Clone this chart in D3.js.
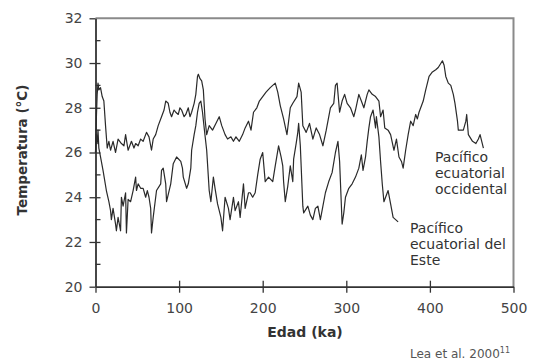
<!DOCTYPE html>
<html>
<head>
<meta charset="utf-8">
<script src="https://cdn.jsdelivr.net/npm/d3@7/dist/d3.min.js"></script>
<style>
  body { margin: 0; background: #fff; }
  svg { display: block; }
</style>
</head>
<body>
<div id="chart"></div>
<script>
// Pacífico ecuatorial occidental (edad ka, temperatura °C)
const westAge = [0,1,2,3,4,6,8,10,12,14,16,18,21,24,27,31,34,36,39,43,46,48,51,54,57,61,64,67,69,72,75,79,82,84,87,89,91,94,96,99,101,103,106,108,111,113,115,118,120,122,123,125,127,129,131,133,136,140,144,148,151,155,158,162,165,168,172,176,179,183,186,189,193,196,200,204,209,215,218,221,225,229,233,236,241,243,246,248,252,256,260,264,268,272,276,281,285,287,289,292,295,298,301,305,309,311,315,318,321,325,327,331,335,339,341,344,346,350,353,357,360,363,366,368,371,374,377,380,383,385,387,392,395,399,403,407,410,415,417,419,422,425,428,430,433,434,438,440,443,444,446,451,455,458,460,462,464];
const westTemp = [26.0,27.5,28.6,29.1,28.8,28.9,28.5,28.3,27.2,26.2,26.5,26.1,26.5,26.0,26.6,26.4,26.3,26.8,26.1,26.5,26.2,26.4,26.3,26.6,26.5,26.9,26.7,26.1,26.6,26.8,27.2,27.6,27.9,28.3,28.2,27.8,27.6,27.9,27.8,27.7,28.0,27.9,27.6,27.7,28.0,27.6,27.8,28.2,28.6,29.4,29.5,29.3,29.2,28.8,27.5,26.8,27.2,27.0,27.3,27.6,27.2,26.8,26.6,26.7,26.5,26.7,26.5,26.8,27.1,27.4,27.0,27.8,28.0,28.3,28.5,28.7,28.9,29.1,28.7,28.1,27.5,26.8,28.0,28.2,28.5,29.1,28.7,27.2,26.9,27.3,26.6,27.1,26.8,26.3,27.0,28.0,28.2,29.0,29.1,27.8,28.3,28.6,28.2,28.0,27.6,27.9,28.6,28.3,28.0,28.6,28.8,28.6,28.5,28.3,27.6,27.9,27.1,27.0,26.8,26.1,26.6,25.8,25.6,25.3,26.1,26.8,27.4,27.2,27.7,27.5,27.8,28.3,28.8,29.4,29.6,29.7,29.8,30.1,29.9,29.4,29.1,29.0,28.6,28.2,27.4,27.0,27.0,27.0,27.4,27.7,26.8,26.5,26.4,26.6,26.8,26.5,26.2];

// Pacífico ecuatorial del Este
const eastAge = [0,1,2,3,4,6,9,13,16,18,19,21,24,25,27,30,31,33,36,37,39,42,45,48,49,51,54,57,60,62,64,66,67,69,73,78,79,81,84,85,90,93,97,102,104,105,109,111,114,115,118,120,122,124,126,128,130,133,136,138,141,143,146,150,152,155,159,161,165,167,171,173,177,179,183,185,188,191,194,197,200,203,207,212,215,219,222,224,225,227,230,233,236,237,240,242,243,245,248,249,254,257,260,263,266,269,272,275,279,283,287,290,292,295,297,299,303,307,311,315,318,320,321,323,325,327,329,332,335,336,339,341,343,345,347,350,353,356,359,362];
const eastTemp = [26.0,26.8,26.4,27.0,26.2,25.8,25.2,24.3,23.8,23.4,23.0,23.5,22.8,22.5,23.1,22.5,24.0,23.6,24.2,22.4,23.9,23.8,24.3,24.9,24.3,24.6,24.4,24.4,24.0,24.3,24.0,23.5,22.4,23.1,24.3,24.6,25.2,25.3,24.6,23.8,24.6,25.5,25.8,25.6,25.3,24.9,24.4,24.6,25.3,26.1,26.8,27.2,27.8,28.2,28.3,27.8,27.1,26.1,24.3,23.8,24.9,24.4,23.7,23.1,22.5,24.0,23.5,23.0,24.0,23.4,23.8,23.1,24.6,23.5,24.2,24.2,24.0,24.2,25.0,25.7,26.0,24.7,24.9,24.7,25.4,26.3,25.8,25.4,24.7,23.8,24.5,25.4,24.7,25.7,26.4,26.9,27.3,26.3,23.6,23.3,23.6,23.2,23.0,23.5,23.6,23.0,23.6,24.2,24.7,25.1,26.0,26.5,25.6,22.8,23.3,24.0,24.4,24.6,24.9,25.3,25.9,25.2,25.4,25.8,26.5,27.1,27.6,27.9,27.1,27.6,26.7,25.6,24.6,23.8,24.0,24.3,23.7,23.1,23.0,22.9];

const xTicks = [0, 100, 200, 300, 400, 500];
const yTicks = [20, 22, 24, 26, 28, 30, 32];
const yMinor = [21, 23, 25, 27, 29, 31];

const westLabel = ["Pacífico", "ecuatorial", "occidental"];
const eastLabel = ["Pacífico", "ecuatorial del", "Este"];

const width = 533, height = 362;
const margin = { top: 18.3, right: 19.5, bottom: 75.3, left: 95.5 };

const svg = d3.select("#chart").append("svg")
  .attr("width", width)
  .attr("height", height)
  .style("font-family", "'DejaVu Sans', sans-serif");

const x = d3.scaleLinear().domain([0, 500]).range([margin.left, width - margin.right]);
const y = d3.scaleLinear().domain([20, 32]).range([height - margin.bottom, margin.top]);

// marco superior y derecho
svg.append("path")
  .attr("d", `M${x(0)},${y(32)}H${x(500)}V${y(20)}`)
  .attr("fill", "none")
  .attr("stroke", "#8a8a8a")
  .attr("stroke-width", 2);

// eje y
const yAxis = svg.append("g")
  .attr("transform", `translate(${x(0)},0)`)
  .call(d3.axisLeft(y).tickValues(yTicks).tickSizeInner(6).tickSizeOuter(0).tickPadding(7));

yAxis.selectAll(".tick line").attr("x2", 5).attr("x1", -6);
yAxis.selectAll(".tick")
  .filter(d => d === 20 || d === 32)
  .select("line").attr("x2", 0);

yAxis.selectAll(".minor")
  .data(yMinor)
  .join("line")
  .attr("class", "minor")
  .attr("x1", 0).attr("x2", 5)
  .attr("y1", d => y(d)).attr("y2", d => y(d))
  .attr("stroke", "#333");

// eje x
const xAxis = svg.append("g")
  .attr("transform", `translate(0,${y(20)})`)
  .call(d3.axisBottom(x).tickValues(xTicks).tickSizeInner(6).tickSizeOuter(0).tickPadding(10));

xAxis.selectAll(".tick line").attr("y1", -6).attr("y2", 6);
xAxis.selectAll(".tick").filter(d => d === 0).select("line").attr("y1", 0);

[yAxis, xAxis].forEach(a => {
  a.select(".domain").attr("stroke", "#333").attr("stroke-width", 1.8);
  a.selectAll("line").attr("stroke", "#333").attr("stroke-width", 1.3);
  a.selectAll("text")
    .attr("fill", "#444")
    .style("font-size", "14px")
    .style("font-family", "'DejaVu Sans', sans-serif");
});
xAxis.selectAll(".tick line").filter(d => d === 500).attr("y1", 0);

// series
const line = d3.line().x(d => x(d[0])).y(d => y(d[1]));

svg.append("path")
  .datum(westAge.map((a, i) => [a, westTemp[i]]))
  .attr("fill", "none")
  .attr("stroke", "#2a2a2a")
  .attr("stroke-width", 1.2)
  .attr("stroke-linejoin", "round")
  .attr("d", line);

svg.append("path")
  .datum(eastAge.map((a, i) => [a, eastTemp[i]]))
  .attr("fill", "none")
  .attr("stroke", "#2a2a2a")
  .attr("stroke-width", 1.2)
  .attr("stroke-linejoin", "round")
  .attr("d", line);

// rotulos de ejes
svg.append("text")
  .attr("transform", `translate(27,150) rotate(-90)`)
  .attr("text-anchor", "middle")
  .attr("fill", "#333")
  .style("font-size", "13.5px")
  .style("font-weight", "bold")
  .text("Temperatura (°C)");

svg.append("text")
  .attr("x", 305)
  .attr("y", 337)
  .attr("text-anchor", "middle")
  .attr("fill", "#333")
  .style("font-size", "14px")
  .style("font-weight", "bold")
  .text("Edad (ka)");

// etiquetas de las series
svg.append("g").selectAll("text")
  .data(westLabel)
  .join("text")
  .attr("x", 435)
  .attr("y", (d, i) => 162 + i * 16)
  .attr("fill", "#333")
  .style("font-size", "14px")
  .text(d => d);

svg.append("g").selectAll("text")
  .data(eastLabel)
  .join("text")
  .attr("x", 410)
  .attr("y", (d, i) => 233 + i * 16)
  .attr("fill", "#333")
  .style("font-size", "14px")
  .text(d => d);

// fuente
const cite = svg.append("text")
  .attr("x", 410)
  .attr("y", 358)
  .attr("fill", "#555")
  .style("font-size", "12px")
  .text("Lea et al. 2000");
cite.append("tspan")
  .attr("dy", -5)
  .style("font-size", "8px")
  .text("11");
</script>
</body>
</html>
